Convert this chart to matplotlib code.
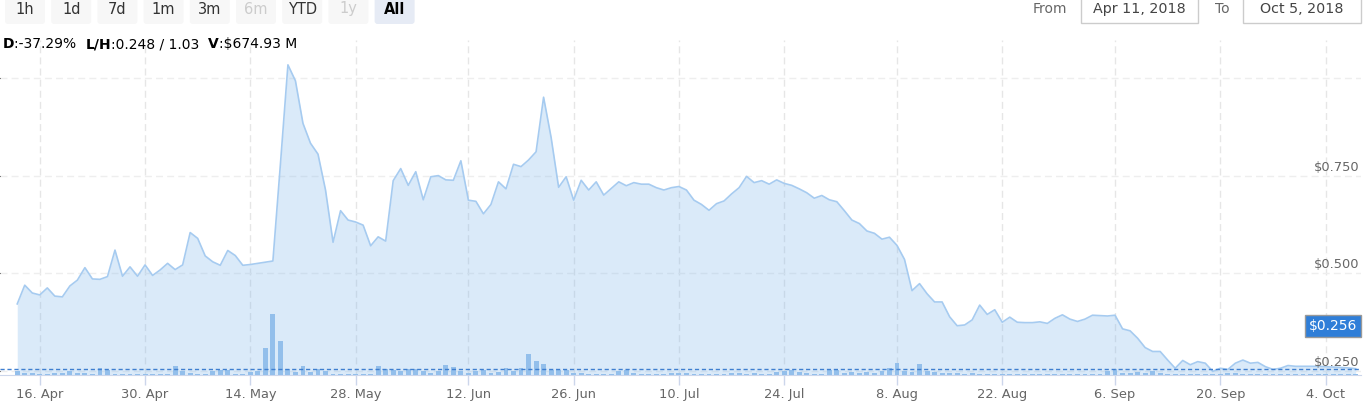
import pandas as pd
import numpy as np
import matplotlib
matplotlib.use("Agg")
import matplotlib.pyplot as plt
from matplotlib.patches import FancyBboxPatch, Rectangle
from matplotlib.lines import Line2D
from matplotlib.transforms import blended_transform_factory

plt.rcParams["font.family"] = ["DejaVu Sans"]

# ----------------------------
# data (daily close in USD, daily volume in $M)
# ----------------------------
start_date = "2018-04-13"

prices = [
    0.422, 0.470, 0.450, 0.445, 0.463, 0.442, 0.440, 0.468, 0.483, 0.515,
    0.486, 0.485, 0.492, 0.560, 0.493, 0.517, 0.493, 0.522, 0.495, 0.509,
    0.526, 0.510, 0.522, 0.605, 0.590, 0.545, 0.530, 0.521, 0.559, 0.546,
    0.521, 0.523, 0.526, 0.529, 0.532, 0.780, 1.035, 0.994, 0.885, 0.834,
    0.806, 0.714, 0.580, 0.661, 0.637, 0.632, 0.624, 0.571, 0.594, 0.583,
    0.738, 0.769, 0.726, 0.761, 0.689, 0.748, 0.751, 0.740, 0.739, 0.789,
    0.688, 0.685, 0.653, 0.677, 0.735, 0.717, 0.780, 0.774, 0.791, 0.812,
    0.952, 0.849, 0.721, 0.748, 0.688, 0.739, 0.714, 0.735, 0.701, 0.718,
    0.735, 0.725, 0.733, 0.729, 0.729, 0.720, 0.714, 0.720, 0.723, 0.714,
    0.688, 0.677, 0.662, 0.679, 0.686, 0.704, 0.720, 0.749, 0.733, 0.738,
    0.729, 0.740, 0.731, 0.726, 0.717, 0.707, 0.693, 0.700, 0.689, 0.684,
    0.661, 0.637, 0.628, 0.609, 0.603, 0.588, 0.593, 0.572, 0.536, 0.456,
    0.474, 0.448, 0.427, 0.427, 0.389, 0.366, 0.368, 0.381, 0.419, 0.395,
    0.407, 0.375, 0.388, 0.375, 0.374, 0.374, 0.376, 0.372, 0.385, 0.394,
    0.383, 0.377, 0.383, 0.393, 0.392, 0.391, 0.393, 0.358, 0.353, 0.334,
    0.310, 0.300, 0.300, 0.278, 0.257, 0.277, 0.266, 0.274, 0.270, 0.249,
    0.257, 0.254, 0.270, 0.278, 0.270, 0.272, 0.261, 0.254, 0.257, 0.264,
    0.262, 0.262, 0.262, 0.262, 0.261, 0.260, 0.259, 0.258, 0.256,
]

volumes = [
    4, 2, 2, 1, 1, 1.7, 1.7, 4, 2, 2,
    1, 7, 5, 1, 1, 1, 1, 1, 1, 1,
    1, 8.7, 3.7, 2, 1, 1, 3.7, 5.3, 5.3, 1,
    1, 2.7, 4, 27, 61, 34, 6, 3.3, 8.7, 3.3,
    5.7, 3.7, 1, 1, 1, 1, 1, 1, 8.7, 5.7,
    5, 3.7, 5.7, 5.7, 3.7, 2.3, 3.7, 10, 8.3, 3.7,
    2.3, 4, 5.3, 2.3, 3, 7, 3.7, 7, 21, 13.7,
    11, 5, 5, 5, 2.3, 2.3, 1, 1, 1, 1,
    4.3, 5, 2.3, 1, 1, 1, 1, 2.3, 2.3, 2.3,
    1.5, 1.5, 1, 1.5, 1, 2, 2, 1, 2, 1.5,
    1, 3, 4, 5, 3, 2, 1.5, 1.5, 5, 5,
    2, 3, 2, 3, 2.3, 4.3, 7, 12.5, 4.3, 3.3,
    11, 4.3, 3.3, 2.3, 2, 2, 1.5, 2, 1.5, 1.5,
    1.5, 1, 1, 1, 1, 1, 1.5, 1.5, 1, 1,
    1, 1, 1, 1, 1.5, 4.3, 5.7, 2.5, 2.5, 3,
    2.5, 3.7, 2, 1, 1, 1, 1, 1, 1, 1,
    1, 2.3, 2.3, 1, 1, 1, 1, 1, 1, 1,
    1, 1, 1, 1, 1, 1, 1, 1, 1,
]

last_price = 0.256

xtick_dates = ["2018-04-16", "2018-04-30", "2018-05-14", "2018-05-28", "2018-06-12",
               "2018-06-26", "2018-07-10", "2018-07-24", "2018-08-08", "2018-08-22",
               "2018-09-06", "2018-09-20", "2018-10-04"]
xtick_labels = ["16. Apr", "30. Apr", "14. May", "28. May", "12. Jun", "26. Jun",
                "10. Jul", "24. Jul", "8. Aug", "22. Aug", "6. Sep", "20. Sep", "4. Oct"]
ytick_vals = [0.25, 0.50, 0.75, 1.00]
ytick_labels = ["$0.250", "$0.500", "$0.750"]

range_buttons = ["1h", "1d", "7d", "1m", "3m", "6m", "YTD", "1y", "All"]
disabled_buttons = ["6m", "1y"]
selected_button = "All"

dates = pd.date_range(start_date, periods=len(prices), freq="D")

# ----------------------------
# figure
# ----------------------------
W, H = 1371, 404
fig = plt.figure(figsize=(W / 100, H / 100), dpi=100)

# plot area in pixels: x 0..1361, y 40..375
ax = fig.add_axes([0, (H - 375) / H, 1361 / W, 335 / H])
ax.set_xlim(dates[0] - pd.Timedelta(hours=55), dates[-1] + pd.Timedelta(hours=17))
ax.set_ylim(0.2397, 1.0987)

ax.set_yticks(ytick_vals)
ax.set_xticks(pd.to_datetime(xtick_dates))
ax.set_xticklabels(xtick_labels)
ax.grid(True, axis="x", color="#e6e6e6", lw=1, ls=(0, (5, 3)))
ax.grid(True, axis="y", color="#eeeeee", lw=1, ls=(0, (5, 3)))
ax.set_axisbelow(True)
ax.tick_params(axis="y", left=False, labelleft=False)
ax.tick_params(axis="x", color="#ccd6eb", length=7.5, width=1, labelsize=9.4,
               labelcolor="#666666", pad=2)
for s in ["top", "left", "right"]:
    ax.spines[s].set_visible(False)
ax.spines["bottom"].set_color("#ccd6eb")

ax.fill_between(dates, prices, 0.2397, color="#7cb5ec", alpha=0.28, lw=0, zorder=2)
ax.plot(dates, prices, color="#a6cbf0", lw=1.2, zorder=3)

for v, lab in zip(ytick_vals, ytick_labels):
    ax.annotate(lab, xy=(1, v), xycoords=("axes fraction", "data"),
                xytext=(-1, 6.3), textcoords="offset points", ha="right", va="center",
                fontsize=9.4, color="#666666", zorder=6)

# volume bars on an overlaid axis
ax2 = ax.twinx()
ax2.set_ylim(0, 335)
ax2.bar(dates, volumes, width=0.65, color="#93bfeb", zorder=2)
ax2.axis("off")
ax2.add_line(Line2D([0, 1], [last_price, last_price], color="#3f7fd0", lw=1,
                    ls=(0, (3, 2)),
                    transform=blended_transform_factory(ax2.transAxes, ax.transData)))

# ----------------------------
# navigator / header elements
# ----------------------------
ui = fig.add_axes([0, 0, 1, 1])
ui.set_xlim(0, W)
ui.set_ylim(H, 0)
ui.axis("off")

bx = 5
for name in range_buttons:
    face = "#e6ebf5" if name == selected_button else "#f7f7f7"
    ui.add_patch(FancyBboxPatch((bx, -4), 40, 28, boxstyle="round,pad=0,rounding_size=3",
                                fc=face, ec="none"))
    col = "#cccccc" if name in disabled_buttons else ("#000000" if name == selected_button else "#333333")
    ui.text(bx + 20, 9, name, ha="center", va="center", fontsize=10.5, color=col,
            fontweight="bold" if name == selected_button else "normal")
    bx += 46.2

ui.text(1050, 9, "From", ha="center", va="center", fontsize=10, color="#666666")
ui.add_patch(Rectangle((1081, -3), 117, 26, fc="white", ec="#cccccc", lw=1))
ui.text(1139.5, 9, "Apr 11, 2018", ha="center", va="center", fontsize=10.3, color="#444444")
ui.text(1222, 9, "To", ha="center", va="center", fontsize=10, color="#666666")
ui.add_patch(Rectangle((1243, -3), 118, 26, fc="white", ec="#cccccc", lw=1))
ui.text(1302, 9, "Oct 5, 2018", ha="center", va="center", fontsize=10.3, color="#444444")

# summary line
pieces = [("D", "bold"), (":-37.29%  ", "normal"), ("L/H", "bold"),
          (":0.248 / 1.03  ", "normal"), ("V", "bold"), (":$674.93 M", "normal")]
prev = ui.text(3, 51, pieces[0][0], ha="left", va="bottom", fontsize=10,
               fontweight=pieces[0][1], color="#000000")
for txt, wt in pieces[1:]:
    prev = ui.annotate(txt, xy=(1, 0), xycoords=prev, ha="left", va="bottom",
                       fontsize=10, fontweight=wt, color="#000000")

# current price flag
ui.text(1333, 326, "$%.3f" % last_price, ha="center", va="center", fontsize=10,
        color="white", bbox=dict(boxstyle="square,pad=0.3", fc="#2f7ed8", ec="#999999", lw=1))

plt.savefig("out.png", dpi=100)
plt.close()
